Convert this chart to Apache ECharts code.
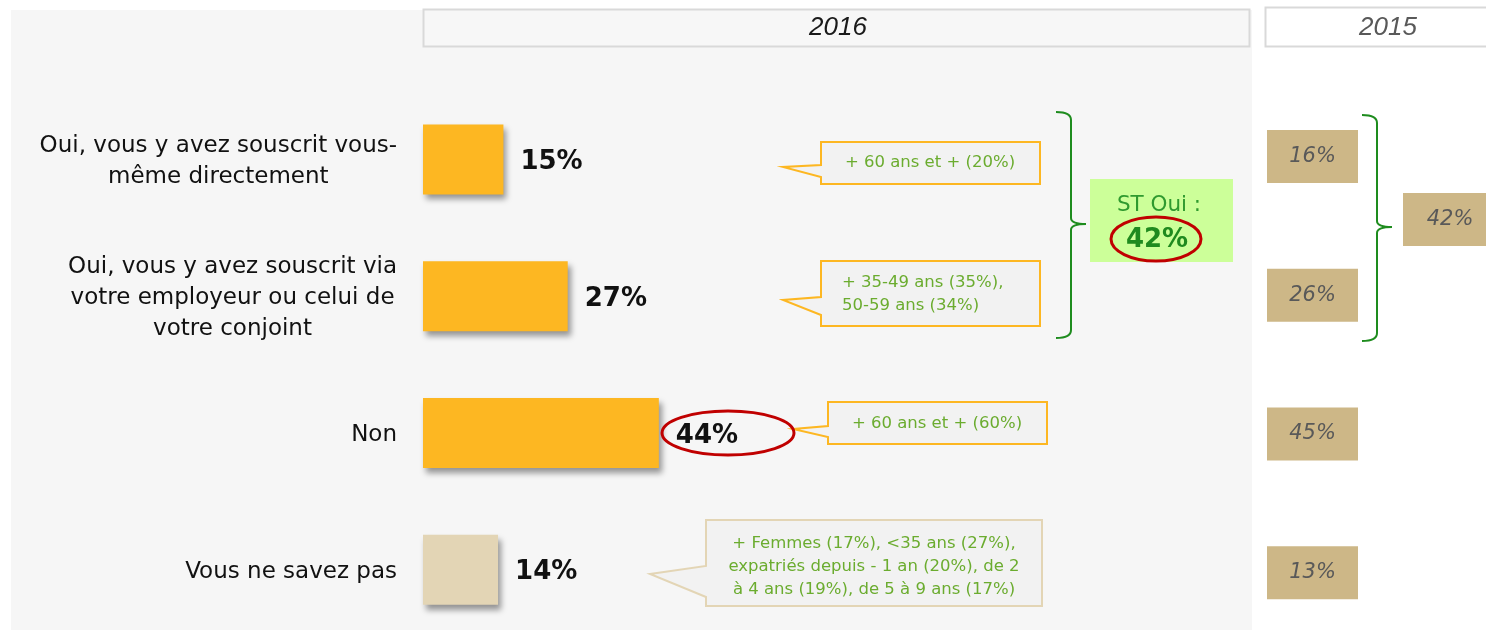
<!DOCTYPE html>
<html>
<head>
<meta charset="utf-8">
<script src="https://cdn.jsdelivr.net/npm/echarts@6/dist/echarts.min.js"></script>
<style>
  html, body { margin: 0; padding: 0; background: #fff; }
  #main { width: 1486px; height: 630px; }
</style>
</head>
<body>
<div id="main"></div>
<script>
// donnees
var categories = [
  'Oui, vous y avez souscrit vous-\nmême directement',
  'Oui, vous y avez souscrit via\nvotre employeur ou celui de\nvotre conjoint',
  'Non',
  'Vous ne savez pas'
]
var values2016 = [15, 27, 44, 14]
var values2015 = [16, 26, 45, 13]
var yearLabels = ['2016', '2015']
var calloutTexts = [
  '+ 60 ans et + (20%)',
  '+ 35-49 ans (35%),\n50-59 ans (34%)',
  '+ 60 ans et + (60%)',
  '+ Femmes (17%), <35 ans (27%),\nexpatriés depuis - 1 an (20%), de 2\nà 4 ans (19%), de 5 à 9 ans (17%)'
]
var stOuiLabel = 'ST Oui :'

var stOui2016 = values2016[0] + values2016[1]
var stOui2015 = values2015[0] + values2015[1]

var ORANGE = '#fdb722'
var BEIGE = '#e3d5b5'
var TAN = '#cdb787'
var GREEN_TXT = '#6bac2f'
var GREEN = '#1e8c1e'
var RED = '#c00000'
var FONT = '"DejaVu Sans", Verdana, sans-serif'

var chart = echarts.init(document.getElementById('main'))

function callout(points, stroke) {
  return {
    type: 'polygon',
    z: 5,
    shape: { points: points },
    style: { fill: '#f2f2f2', stroke: stroke, lineWidth: 2 }
  }
}

function note(text, x, y, align) {
  return {
    type: 'text',
    z: 6,
    x: x,
    y: y,
    style: {
      text: text,
      fill: GREEN_TXT,
      fontFamily: FONT,
      fontSize: 16.5,
      lineHeight: 23,
      align: align,
      verticalAlign: 'middle'
    }
  }
}

// accolade verte : x0 bout des crochets, x1 trait vertical, tip pointe du milieu
function bracket(x0, x1, tip, top, mid, bottom) {
  var st = { fill: null, stroke: GREEN, lineWidth: 2 }
  return {
    type: 'group',
    z: 6,
    children: [
      { type: 'bezierCurve', shape: { x1: x0, y1: top, cpx1: x1, cpy1: top, x2: x1, y2: top + 8 }, style: st },
      { type: 'line', shape: { x1: x1, y1: top + 8, x2: x1, y2: mid - 6 }, style: st },
      { type: 'bezierCurve', shape: { x1: x1, y1: mid - 6, cpx1: x1, cpy1: mid, x2: tip, y2: mid }, style: st },
      { type: 'bezierCurve', shape: { x1: tip, y1: mid, cpx1: x1, cpy1: mid, x2: x1, y2: mid + 6 }, style: st },
      { type: 'line', shape: { x1: x1, y1: mid + 6, x2: x1, y2: bottom - 8 }, style: st },
      { type: 'bezierCurve', shape: { x1: x1, y1: bottom - 8, cpx1: x1, cpy1: bottom, x2: x0, y2: bottom }, style: st }
    ]
  }
}

var option = {
  backgroundColor: '#ffffff',
  animation: false,
  grid: [
    { left: 423, width: 536, top: 91, height: 547, outerBoundsMode: 'none' },
    { left: 1267, width: 91, top: 87, height: 555, outerBoundsMode: 'none' }
  ],
  xAxis: [
    { type: 'value', gridIndex: 0, min: 0, max: 100, show: false },
    { type: 'value', gridIndex: 1, min: 0, max: 1, show: false }
  ],
  yAxis: [
    {
      type: 'category',
      gridIndex: 0,
      inverse: true,
      data: categories,
      axisLine: { show: false },
      axisTick: { show: false },
      splitLine: { show: false },
      axisLabel: {
        margin: 26,
        align: 'right',
        padding: [4, 0, 0, 0],
        formatter: function (v) {
          return v.split('\n').map(function (l) { return '{c|' + l + '}' }).join('\n')
        },
        rich: {
          c: { align: 'center', fontFamily: FONT, fontSize: 23, lineHeight: 31, color: '#111' }
        }
      }
    },
    {
      type: 'category',
      gridIndex: 1,
      inverse: true,
      data: categories,
      show: false
    }
  ],
  series: [
    {
      type: 'bar',
      xAxisIndex: 0,
      yAxisIndex: 0,
      barWidth: 70,
      data: values2016,
      itemStyle: {
        color: function (p) { return p.dataIndex === 3 ? BEIGE : ORANGE },
        shadowColor: 'rgba(0,0,0,0.4)',
        shadowBlur: 6,
        shadowOffsetX: 3,
        shadowOffsetY: 5
      },
      label: {
        show: true,
        position: 'right',
        distance: 17,
        offset: [0, 3],
        formatter: '{c}%',
        fontFamily: FONT,
        fontSize: 26,
        fontWeight: 'bold',
        color: '#111'
      }
    },
    {
      type: 'scatter',
      xAxisIndex: 1,
      yAxisIndex: 1,
      symbol: 'rect',
      symbolSize: [91, 53],
      data: values2015.map(function (v, i) { return [0.5, i] }),
      itemStyle: { color: TAN, opacity: 1 },
      label: {
        show: true,
        position: 'inside',
        formatter: function (p) { return values2015[p.dataIndex] + '%' },
        fontFamily: FONT,
        fontStyle: 'italic',
        fontSize: 21,
        color: '#595959'
      }
    }
  ],
  graphic: [
    // fonds et en-tetes
    { type: 'rect', z: -10, shape: { x: 11, y: 10, width: 1241, height: 620 }, style: { fill: '#f6f6f6' } },
    { type: 'rect', z: 1, shape: { x: 423.5, y: 9.5, width: 826, height: 37 }, style: { fill: '#f7f7f7', stroke: '#d9d9d9', lineWidth: 2 } },
    { type: 'text', z: 2, x: 838, y: 28, style: { text: yearLabels[0], fontFamily: '"Liberation Sans", Arial, sans-serif', fontStyle: 'italic', fontSize: 26, fill: '#1a1a1a', align: 'center', verticalAlign: 'middle' } },
    { type: 'rect', z: 1, shape: { x: 1265.5, y: 7.5, width: 230, height: 39 }, style: { fill: '#ffffff', stroke: '#d9d9d9', lineWidth: 2 } },
    { type: 'text', z: 2, x: 1388, y: 28, style: { text: yearLabels[1], fontFamily: '"Liberation Sans", Arial, sans-serif', fontStyle: 'italic', fontSize: 26, fill: '#595959', align: 'center', verticalAlign: 'middle' } },

    // bulles
    callout([[821, 142], [1040, 142], [1040, 184], [821, 184], [821, 177], [783, 167], [821, 165]], ORANGE),
    note(calloutTexts[0], 930, 163, 'center'),
    callout([[821, 261], [1040, 261], [1040, 326], [821, 326], [821, 315], [783, 300], [821, 297]], ORANGE),
    note(calloutTexts[1], 842, 294, 'left'),
    callout([[828, 402], [1047, 402], [1047, 444], [828, 444], [828, 437], [793, 429], [828, 426]], ORANGE),
    note(calloutTexts[2], 937, 424, 'center'),
    callout([[706, 520], [1042, 520], [1042, 606], [706, 606], [706, 597], [650, 574], [706, 566]], BEIGE),
    note(calloutTexts[3], 874, 567, 'center'),

    // ST Oui 2016
    bracket(1056, 1071, 1086, 112, 224, 338),
    { type: 'rect', z: 5, shape: { x: 1090, y: 179, width: 143, height: 83 }, style: { fill: '#ccff99' } },
    { type: 'text', z: 6, x: 1159, y: 205, style: { text: stOuiLabel, fontFamily: FONT, fontSize: 21.5, fill: '#2f9a2f', align: 'center', verticalAlign: 'middle' } },
    { type: 'text', z: 6, x: 1157, y: 240, style: { text: stOui2016 + '%', fontFamily: FONT, fontSize: 26, fontWeight: 'bold', fill: '#1f8a1f', align: 'center', verticalAlign: 'middle' } },
    { type: 'ellipse', z: 7, shape: { cx: 1156, cy: 239, rx: 45, ry: 22 }, style: { fill: null, stroke: RED, lineWidth: 3 } },

    // cercle autour du Non
    { type: 'ellipse', z: 7, shape: { cx: 728, cy: 433, rx: 66, ry: 22 }, style: { fill: null, stroke: RED, lineWidth: 3 } },

    // ST Oui 2015
    bracket(1362, 1377, 1392, 115, 227, 341),
    { type: 'rect', z: 5, shape: { x: 1403, y: 193, width: 93, height: 53 }, style: { fill: TAN } },
    { type: 'text', z: 6, x: 1450, y: 220, style: { text: stOui2015 + '%', fontFamily: FONT, fontStyle: 'italic', fontSize: 21, fill: '#595959', align: 'center', verticalAlign: 'middle' } }
  ]
}

chart.setOption(option)
</script>
</body>
</html>
